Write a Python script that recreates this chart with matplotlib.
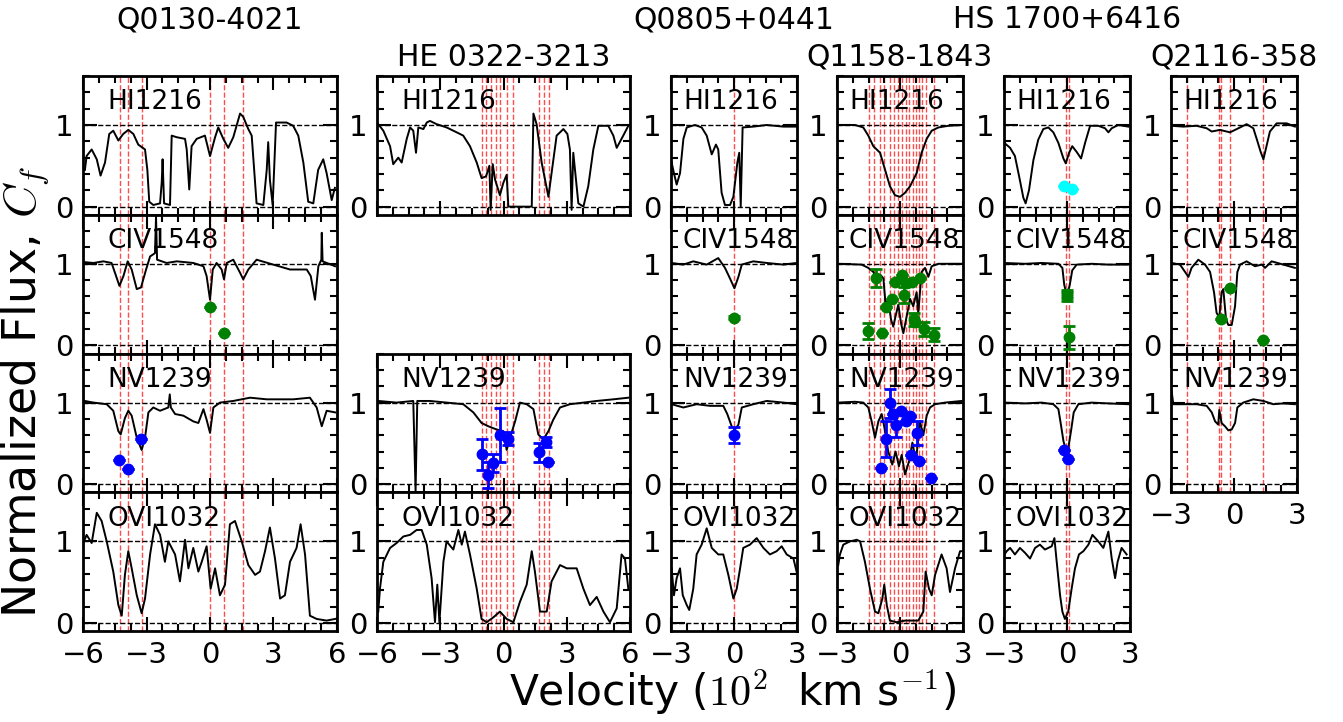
import matplotlib
matplotlib.use("Agg")
import matplotlib.pyplot as plt
from matplotlib.ticker import MultipleLocator

plt.rcParams['mathtext.fontset'] = 'cm'
plt.rcParams['font.family'] = ['DejaVu Sans']

# ---- data (velocity in 1e2 km/s, normalized flux) ----
q0130_hi = [(-5.91, 0.45), (-5.83, 0.62), (-5.59, 0.70), (-5.35, 0.58), (-5.17, 0.38), (-4.96, 0.54),
            (-4.76, 0.89), (-4.57, 0.93), (-4.33, 0.81), (-4.1, 0.89), (-3.86, 0.94), (-3.62, 0.89),
            (-3.39, 0.76), (-3.07, 0.70), (-2.96, 0.45), (-2.87, 0.06), (-2.68, 0.02), (-2.36, 0.04),
            (-2.28, 0.30), (-2.24, 0.58), (-2.17, 0.04), (-1.89, 0.02), (-1.81, 0.87), (-1.57, 0.85),
            (-1.18, 0.83), (-1.1, 0.70), (-0.98, 0.21), (-0.87, 0.74), (-0.63, 0.83), (-0.24, 0.87),
            (0.0, 0.62), (0.24, 0.85), (0.39, 0.97), (0.63, 0.83), (0.86, 0.72), (1.1, 0.85),
            (1.42, 1.14), (1.57, 1.10), (1.81, 0.95), (1.97, 0.87), (2.12, 0.33), (2.2, 0.04),
            (2.52, 0.02), (2.68, 0.45), (2.75, 0.79), (2.83, 0.33), (2.96, 0.02), (3.12, 1.03),
            (3.62, 1.03), (3.93, 0.99), (4.17, 0.87), (4.41, 0.54), (4.64, 0.06), (4.88, 0.04),
            (5.11, 0.45), (5.35, 0.58), (5.51, 0.41), (5.75, 0.08), (5.9, 0.23)]
q0130_civ = [(-5.91, 1.02), (-5.51, 1.01), (-5.04, 1.03), (-4.65, 1.01), (-4.49, 0.89), (-4.28, 0.73),
             (-4.09, 0.85), (-3.89, 1.03), (-3.70, 0.93), (-3.46, 0.69), (-3.26, 0.71), (-3.02, 0.93),
             (-2.83, 1.09), (-2.6, 1.13), (-2.55, 1.58), (-2.5, 1.05), (-2.05, 1.01), (-1.57, 1.03),
             (-0.79, 1.01), (-0.31, 0.97), (-0.16, 0.85), (0.0, 0.56), (0.13, 0.93), (0.31, 1.01),
             (0.55, 0.93), (0.66, 0.81), (0.79, 1.01), (1.1, 1.05), (1.42, 0.89), (1.57, 0.81),
             (1.81, 0.93), (2.2, 1.05), (2.99, 0.99), (3.78, 0.93), (4.57, 0.93), (4.76, 0.85),
             (4.96, 0.56), (5.12, 0.97), (5.26, 1.05), (5.28, 1.38), (5.32, 1.03), (5.91, 0.97)]
q0130_nv = [(-5.91, 1.02), (-5.51, 1.0), (-4.88, 0.98), (-4.57, 0.90), (-4.33, 0.65), (-4.22, 0.61),
            (-4.02, 0.81), (-3.86, 0.90), (-3.70, 0.84), (-3.46, 0.57), (-3.23, 0.42), (-3.07, 0.57),
            (-2.91, 0.88), (-2.68, 0.94), (-2.36, 0.90), (-1.97, 0.94), (-1.9, 1.1), (-1.85, 0.94),
            (-1.65, 0.86), (-1.26, 0.84), (-0.79, 0.77), (-0.55, 0.75), (-0.31, 0.92), (-0.16, 0.79),
            (0.0, 0.63), (0.16, 0.94), (0.47, 1.0), (1.1, 1.02), (1.89, 1.06), (2.68, 1.04),
            (3.94, 1.04), (4.72, 1.06), (5.04, 0.94), (5.28, 0.71), (5.51, 0.90), (5.91, 0.88)]
q0130_ovi = [(-5.95, 1.0), (-5.83, 1.08), (-5.59, 0.98), (-5.35, 1.35), (-5.12, 1.25), (-4.88, 1.0),
             (-4.57, 0.63), (-4.33, 0.22), (-4.17, 0.09), (-4.02, 0.59), (-3.86, 0.88), (-3.70, 0.67),
             (-3.46, 0.34), (-3.23, 0.12), (-3.07, 0.30), (-2.83, 0.84), (-2.6, 1.21), (-2.36, 1.08),
             (-2.13, 0.75), (-1.97, 1.0), (-1.65, 0.84), (-1.42, 0.51), (-1.18, 1.02), (-1.02, 0.67),
             (-0.79, 0.92), (-0.55, 0.63), (-0.39, 0.75), (-0.16, 0.94), (0.03, 0.42), (0.24, 0.67),
             (0.47, 0.34), (0.71, 0.47), (0.94, 1.21), (1.18, 1.25), (1.5, 1.0), (1.81, 0.71),
             (2.13, 0.59), (2.36, 0.63), (2.6, 0.88), (2.83, 1.17), (3.07, 0.79), (3.31, 0.30),
             (3.54, 0.34), (3.78, 0.75), (4.09, 0.92), (4.28, 1.21), (4.49, 0.84), (4.72, 0.09),
             (5.04, 0.05), (5.51, 0.03), (5.91, 0.05)]

he0322_hi = [(-5.94, 1.01), (-5.70, 0.93), (-5.38, 0.74), (-5.23, 0.52), (-4.99, 0.60), (-4.83, 0.54),
             (-4.59, 0.83), (-4.43, 0.97), (-4.28, 0.93), (-4.15, 0.66), (-4.04, 0.97), (-3.80, 0.95),
             (-3.64, 1.03), (-3.49, 1.05), (-3.17, 1.01), (-2.70, 0.97), (-2.22, 0.91), (-1.91, 0.87),
             (-1.59, 0.74), (-1.27, 0.54), (-1.04, 0.35), (-0.83, 0.37), (-0.67, 0.50), (-0.61, -0.04),
             (-0.51, 0.52), (-0.40, 0.33), (-0.17, 0.14), (-0.01, 0.29), (0.15, 0.39), (0.23, 0.0),
             (0.62, 0.0), (1.34, 0.0), (1.42, 1.14), (1.57, 1.01), (1.81, 0.54), (2.13, 0.12),
             (2.28, 0.41), (2.52, 0.87), (2.84, 0.95), (3.03, 0.89), (3.15, 0.70), (3.23, -0.04),
             (3.31, 0.66), (3.55, 0.04), (3.79, 0.0), (4.02, 0.25), (4.26, 0.70), (4.5, 0.99),
             (4.97, 0.99), (5.21, 0.87), (5.37, 0.72), (5.68, 0.87), (5.92, 0.99)]
he0322_nv = [(-5.94, 1.02), (-5.07, 1.0), (-4.28, 1.02), (-4.17, -0.09), (-4.09, 1.02), (-3.49, 1.02),
             (-2.70, 1.0), (-1.91, 0.98), (-1.43, 0.88), (-1.04, 0.75), (-0.72, 0.71), (-0.32, 0.67),
             (-0.01, 0.65), (0.15, 0.42), (0.31, 0.57), (0.55, 0.77), (0.78, 1.0), (1.10, 0.98),
             (1.42, 0.92), (1.65, 0.61), (1.89, 0.55), (2.13, 0.65), (2.36, 0.79), (2.68, 0.94),
             (3.15, 0.98), (3.79, 1.0), (4.42, 1.02), (5.21, 1.04), (5.92, 1.06)]
he0322_ovi = [(-5.94, 0.14), (-5.86, 0.42), (-5.70, 0.75), (-5.38, 0.92), (-5.07, 0.98), (-4.75, 1.06),
              (-4.43, 1.08), (-4.12, 1.14), (-3.88, 1.14), (-3.64, 0.96), (-3.41, 0.55), (-3.25, 0.01),
              (-3.14, 0.47), (-3.04, 0.01), (-2.85, 0.75), (-2.70, 1.0), (-2.38, 0.9), (-2.14, 1.14),
              (-1.98, 0.96), (-1.83, 1.12), (-1.59, 0.84), (-1.27, 0.42), (-1.04, 0.05), (-0.80, 0.01),
              (-0.48, 0.07), (-0.17, 0.14), (0.15, 0.05), (0.47, 0.01), (0.78, 0.26), (1.10, 0.47),
              (1.34, 0.88), (1.49, 0.63), (1.73, 0.14), (2.05, 0.14), (2.28, 0.51), (2.68, 0.71),
              (3.0, 0.67), (3.47, 0.67), (3.79, 0.42), (4.1, 0.22), (4.42, 0.32), (4.74, 0.14),
              (5.05, 0.01), (5.37, 0.18), (5.6, 0.84), (5.76, 0.79), (5.92, 0.42)]

q0805_hi = [(-2.97, 0.54), (-2.86, 0.41), (-2.73, 0.27), (-2.57, 0.41), (-2.41, 0.83), (-2.25, 0.97),
            (-1.86, 1.0), (-1.54, 0.97), (-1.30, 0.87), (-1.06, 0.64), (-0.86, 0.76), (-0.75, 0.70),
            (-0.59, 0.17), (-0.43, 0.02), (-0.19, 0.02), (-0.03, 0.12), (0.16, 0.54), (0.25, 0.66),
            (0.32, 0.0), (0.41, 0.97), (0.92, 0.98), (1.56, 1.0), (2.35, 0.98), (2.98, 0.98)]
q0805_civ = [(-2.97, 1.01), (-2.41, 0.99), (-1.94, 1.03), (-1.30, 0.99), (-0.75, 1.07), (-0.43, 0.95),
             (-0.19, 0.82), (0.02, 0.70), (0.21, 0.84), (0.37, 0.99), (0.92, 1.03), (1.56, 1.01),
             (2.35, 0.99), (2.98, 1.01)]
q0805_nv = [(-2.97, 0.98), (-2.41, 0.94), (-1.78, 0.98), (-1.14, 0.96), (-0.51, 0.96), (-0.32, 0.86),
            (-0.11, 0.71), (0.05, 0.67), (0.21, 0.73), (0.37, 0.94), (0.92, 0.98), (1.56, 1.02),
            (2.35, 1.0), (2.98, 0.98)]
q0805_ovi = [(-2.97, 0.67), (-2.86, 0.34), (-2.73, 0.55), (-2.57, 0.67), (-2.44, 0.34), (-2.25, 0.22),
             (-2.13, 0.16), (-1.94, 0.42), (-1.78, 0.84), (-1.54, 0.96), (-1.30, 1.16), (-1.06, 0.92),
             (-0.75, 0.84), (-0.51, 0.84), (-0.27, 0.59), (-0.03, 0.30), (0.13, 0.42), (0.29, 0.67),
             (0.44, 0.92), (0.76, 0.96), (1.08, 1.04), (1.40, 0.92), (1.71, 0.84), (2.03, 0.88),
             (2.27, 0.94), (2.51, 0.84), (2.83, 0.79), (2.98, 0.63)]

q1158_hi = [(-2.94, 1.0), (-2.14, 1.0), (-1.75, 0.97), (-1.51, 0.87), (-1.27, 0.74), (-0.95, 0.66),
            (-0.71, 0.45), (-0.48, 0.25), (-0.24, 0.14), (0.0, 0.12), (0.24, 0.17), (0.48, 0.25),
            (0.79, 0.41), (1.03, 0.66), (1.27, 0.83), (1.51, 0.93), (1.83, 0.97), (2.3, 0.99),
            (2.94, 1.0)]
q1158_civ = [(-2.94, 1.0), (-1.83, 0.99), (-1.51, 0.95), (-1.27, 0.90), (-1.11, 0.82), (-0.95, 0.87),
             (-0.79, 0.82), (-0.68, 0.48), (-0.56, 0.57), (-0.43, 0.32), (-0.32, 0.23), (-0.21, 0.36),
             (-0.08, 0.50), (0.05, 0.27), (0.16, 0.15), (0.32, 0.36), (0.48, 0.57), (0.63, 0.48),
             (0.79, 0.65), (0.87, 0.40), (0.95, 0.65), (1.03, 0.90), (1.19, 0.95), (1.35, 0.84),
             (1.51, 0.97), (1.83, 1.0), (2.94, 1.0)]
q1158_nv = [(-2.94, 1.0), (-2.14, 1.01), (-1.75, 1.0), (-1.51, 0.94), (-1.35, 0.77), (-1.19, 0.57),
            (-1.03, 0.77), (-0.87, 0.86), (-0.71, 0.65), (-0.56, 0.40), (-0.37, 0.24), (-0.21, 0.40),
            (-0.05, 0.22), (0.08, 0.36), (0.24, 0.12), (0.43, 0.28), (0.59, 0.51), (0.76, 0.28),
            (0.95, 0.77), (1.11, 0.60), (1.27, 0.84), (1.43, 0.94), (1.67, 0.98), (2.14, 1.0),
            (2.94, 1.02)]
q1158_ovi = [(-2.94, 0.71), (-2.86, 0.84), (-2.70, 0.96), (-2.38, 1.0), (-2.06, 1.02), (-1.90, 1.0),
             (-1.67, 0.75), (-1.43, 0.42), (-1.19, 0.14), (-1.03, 0.12), (-0.84, 0.30), (-0.75, 0.47),
             (-0.63, 0.22), (-0.48, 0.03), (-0.16, 0.01), (0.24, 0.03), (0.87, 0.03), (1.11, 0.14),
             (1.22, 0.63), (1.38, 0.42), (1.51, 0.34), (1.67, 0.59), (1.98, 0.84), (2.22, 0.67),
             (2.38, 0.38), (2.62, 0.67), (2.86, 0.88), (2.98, 0.88)]

hs1700_hi = [(-2.98, 0.78), (-2.71, 0.72), (-2.48, 0.62), (-2.24, 0.32), (-2.08, 0.11), (-1.97, 0.04),
             (-1.81, 0.20), (-1.60, 0.57), (-1.37, 0.82), (-1.13, 0.95), (-0.89, 0.97), (-0.65, 0.91),
             (-0.41, 0.78), (-0.17, 0.59), (-0.06, 0.53), (0.10, 0.66), (0.25, 0.74), (0.46, 0.67),
             (0.67, 0.59), (0.86, 0.78), (1.10, 0.99), (1.49, 0.99), (1.81, 0.96), (1.97, 0.91),
             (2.13, 0.96), (2.44, 1.0), (2.92, 0.98)]
hs1700_civ = [(-2.98, 1.01), (-2.0, 1.0), (-1.21, 1.01), (-0.41, 1.0), (-0.22, 0.95), (-0.13, 0.74),
              (0.0, 0.61), (0.13, 0.74), (0.25, 0.92), (0.46, 0.99), (1.17, 1.0), (1.97, 0.99),
              (2.92, 0.99)]
hs1700_nv = [(-2.98, 1.0), (-2.0, 0.99), (-1.21, 1.0), (-0.65, 0.98), (-0.41, 0.92), (-0.29, 0.73),
             (-0.17, 0.53), (-0.06, 0.42), (0.06, 0.44), (0.19, 0.65), (0.32, 0.88), (0.54, 0.98),
             (1.17, 1.0), (1.97, 0.99), (2.92, 0.98)]
hs1700_ovi = [(-2.98, 0.84), (-2.87, 0.88), (-2.71, 0.92), (-2.48, 0.84), (-2.24, 0.92), (-2.0, 0.86),
              (-1.76, 0.79), (-1.52, 0.92), (-1.29, 0.96), (-1.05, 0.90), (-0.73, 0.94), (-0.60, 1.04),
              (-0.49, 0.75), (-0.33, 0.34), (-0.22, 0.14), (-0.10, 0.05), (0.06, 0.14), (0.22, 0.42),
              (0.38, 0.67), (0.57, 0.84), (0.78, 0.88), (1.02, 0.96), (1.21, 1.08), (1.49, 1.0),
              (1.73, 0.92), (1.97, 1.12), (2.13, 0.79), (2.29, 0.55), (2.41, 0.75), (2.60, 0.92),
              (2.84, 0.84)]

q2116_hi = [(-2.97, 0.99), (-2.41, 0.98), (-1.78, 0.99), (-1.30, 0.96), (-1.06, 0.92), (-0.67, 0.94),
            (-0.19, 0.91), (0.21, 0.96), (0.60, 1.01), (0.92, 0.96), (1.08, 0.83), (1.27, 0.67),
            (1.40, 0.58), (1.52, 0.71), (1.71, 0.92), (2.03, 1.02), (2.51, 1.02), (2.90, 0.98)]
q2116_civ = [(-2.97, 1.01), (-2.57, 0.99), (-2.33, 0.90), (-2.17, 0.84), (-2.02, 0.95), (-1.70, 1.05),
             (-1.38, 0.99), (-1.14, 0.90), (-0.95, 0.65), (-0.83, 0.40), (-0.70, 0.34), (-0.59, 0.65),
             (-0.51, 0.69), (-0.38, 0.32), (-0.27, 0.25), (-0.11, 0.25), (0.05, 0.48), (0.16, 0.90),
             (0.29, 0.99), (0.60, 1.03), (1.0, 0.97), (1.32, 0.99), (1.48, 0.95), (1.79, 1.03),
             (2.35, 0.99), (2.90, 0.95)]
q2116_nv = [(-2.97, 1.14), (-2.89, 0.98), (-2.41, 0.98), (-1.78, 0.98), (-1.30, 0.96), (-1.06, 0.88),
            (-0.90, 0.77), (-0.75, 0.73), (-0.70, 0.91), (-0.59, 0.75), (-0.43, 0.71), (-0.27, 0.66),
            (-0.11, 0.67), (0.05, 0.75), (0.16, 0.94), (0.44, 1.0), (0.92, 1.04), (1.40, 1.02),
            (1.87, 0.98), (2.35, 0.99), (2.90, 0.98)]

# component velocities (red dashed lines)
q0130_comp = [-4.25, -3.86, -3.23, 0.0, 0.65, 1.55]
he0322_comp = [-1.03, -0.83, -0.61, -0.37, -0.17, 0.15, 0.47, 1.7, 1.94, 2.14]
q0805_comp = [0.0]
q1158_comp = [-1.5, -1.25, -0.95, -0.75, -0.5, -0.3, -0.1, 0.1, 0.3, 0.45, 0.6, 0.75, 0.9, 1.05, 1.25, 1.6]
hs1700_comp = [-0.05, 0.08]
q2116_comp = [-2.25, -0.71, -0.62, -0.17, 1.39]

# covering fractions (v, Cf, err)
q0130_civ_cf = [(0.0, 0.47, 0), (0.67, 0.15, 0)]
q0130_nv_cf = [(-4.28, 0.30, 0), (-3.87, 0.19, 0), (-3.26, 0.56, 0)]
he0322_nv_cf = [(-1.03, 0.37, 0.19), (-0.75, 0.11, 0.16), (-0.48, 0.26, 0.11), (-0.17, 0.60, 0.33),
                (0.2, 0.56, 0.08), (1.7, 0.39, 0.12), (2.02, 0.52, 0.06), (2.13, 0.27, 0)]
q0805_civ_cf = [(0.0, 0.34, 0.02)]
q0805_nv_cf = [(0.0, 0.60, 0.1)]
q1158_civ_cf = [(-1.51, 0.18, 0.1), (-1.16, 0.83, 0.11), (-0.87, 0.15, 0), (-0.67, 0.47, 0),
                (-0.38, 0.57, 0), (-0.24, 0.78, 0), (0.1, 0.86, 0), (0.18, 0.62, 0.1), (0.3, 0.76, 0),
                (0.55, 0.78, 0), (0.95, 0.82, 0), (0.68, 0.32, 0.08), (0.72, 0.29, 0),
                (1.14, 0.2, 0.09), (1.64, 0.13, 0.08)]
q1158_nv_cf = [(-0.9, 0.2, 0), (-0.67, 0.55, 0.22), (-0.5, 0.99, 0.18), (-0.33, 0.86, 0),
               (-0.21, 0.73, 0.15), (0.07, 0.9, 0), (0.28, 0.77, 0), (0.47, 0.84, 0),
               (0.82, 0.63, 0.15), (0.54, 0.36, 0), (0.9, 0.28, 0), (1.46, 0.08, 0)]
hs1700_hi_cf = [(-0.13, 0.25, 0), (0.22, 0.22, 0)]
hs1700_civ_cf = [(-0.02, 0.63, 0.05), (0.0, 0.60, 0.06), (0.08, 0.10, 0.14)]
hs1700_nv_cf = [(-0.13, 0.42, 0), (0.03, 0.31, 0)]
q2116_civ_cf = [(-0.63, 0.32, 0), (-0.17, 0.70, 0), (1.39, 0.07, 0)]

ions = ['HI1216', 'CIV1548', 'NV1239', 'OVI1032']
cf_colors = {'HI1216': 'cyan', 'CIV1548': 'green', 'NV1239': 'blue'}

columns = [
    ('Q0130-4021', 6, 'high', q0130_comp,
     {'HI1216': q0130_hi, 'CIV1548': q0130_civ, 'NV1239': q0130_nv, 'OVI1032': q0130_ovi},
     {'CIV1548': q0130_civ_cf, 'NV1239': q0130_nv_cf}),
    ('HE 0322-3213', 6, 'low', he0322_comp,
     {'HI1216': he0322_hi, 'NV1239': he0322_nv, 'OVI1032': he0322_ovi},
     {'NV1239': he0322_nv_cf}),
    ('Q0805+0441', 3, 'high', q0805_comp,
     {'HI1216': q0805_hi, 'CIV1548': q0805_civ, 'NV1239': q0805_nv, 'OVI1032': q0805_ovi},
     {'CIV1548': q0805_civ_cf, 'NV1239': q0805_nv_cf}),
    ('Q1158-1843', 3, 'low', q1158_comp,
     {'HI1216': q1158_hi, 'CIV1548': q1158_civ, 'NV1239': q1158_nv, 'OVI1032': q1158_ovi},
     {'CIV1548': q1158_civ_cf, 'NV1239': q1158_nv_cf}),
    ('HS 1700+6416', 3, 'high', hs1700_comp,
     {'HI1216': hs1700_hi, 'CIV1548': hs1700_civ, 'NV1239': hs1700_nv, 'OVI1032': hs1700_ovi},
     {'HI1216': hs1700_hi_cf, 'CIV1548': hs1700_civ_cf, 'NV1239': hs1700_nv_cf}),
    ('Q2116-358', 3, 'low', q2116_comp,
     {'HI1216': q2116_hi, 'CIV1548': q2116_civ, 'NV1239': q2116_nv},
     {'CIV1548': q2116_civ_cf}),
]

# ---- layout (pixels) ----
W, H = 1343, 722
fig = plt.figure(figsize=(W / 100, H / 100), dpi=100)
col_px = [(83, 337), (377, 630), (671, 797), (837, 963), (1004, 1130), (1171, 1297)]
top_px, row_h = 76, 138.8

for (name, vmax, tpos, comps, spec, cfs), (x0, x1) in zip(columns, col_px):
    present = [ion for ion in ions if ion in spec]
    last = present[-1]
    for i, ion in enumerate(ions):
        if ion not in spec:
            continue
        y_top = top_px + i * row_h
        ax = fig.add_axes([x0 / W, 1 - (y_top + row_h) / H, (x1 - x0) / W, row_h / H])
        v, f = zip(*spec[ion])
        for c in comps:
            ax.axvline(c, color='red', ls='--', lw=1, alpha=0.7, zorder=1)
        ax.axhline(1, color='k', ls='--', lw=1, zorder=1)
        ax.axhline(0, color='k', ls='--', lw=1, zorder=1)
        ax.plot(v, f, color='k', lw=1.4, zorder=2)
        if ion in cfs:
            pv, pc, pe = zip(*cfs[ion])
            col = cf_colors[ion]
            ax.errorbar(pv, pc, yerr=pe, fmt='o', color=col, ms=7.5, mec=col, elinewidth=2,
                        capsize=4, capthick=2, zorder=3)
        ax.text(0.095, 0.76, ion, transform=ax.transAxes, fontsize=19, va='baseline')
        ax.set_xlim(-vmax, vmax)
        ax.set_ylim(-0.1, 1.6)
        ax.xaxis.set_major_locator(MultipleLocator(3))
        ax.xaxis.set_minor_locator(MultipleLocator(0.75))
        ax.yaxis.set_major_locator(MultipleLocator(1))
        ax.yaxis.set_minor_locator(MultipleLocator(0.2))
        ax.tick_params(which='both', direction='in', top=True, right=True, width=1.5)
        ax.tick_params(which='major', length=10, labelsize=21, pad=7)
        ax.tick_params(which='minor', length=5)
        ax.set_yticks([0, 1])
        ax.set_yticklabels(['0', '1'])
        if ion != last:
            ax.set_xticklabels([])
        for s in ax.spines.values():
            s.set_linewidth(2)
    ty = 20 if tpos == 'high' else 57
    fig.text((x0 + x1) / 2 / W, 1 - ty / H, name, fontsize=21.5, ha='center', va='center')

fig.text(25 / W, 1 - 392 / H, 'Normalized Flux, $C_f$', rotation=90, fontsize=33,
         ha='center', va='center')
fig.text(732 / W, 1 - 692 / H, r'Velocity ($10^2$  km s$^{-1}$)', fontsize=30.5,
         ha='center', va='center')

fig.savefig('out.png', dpi=100)
